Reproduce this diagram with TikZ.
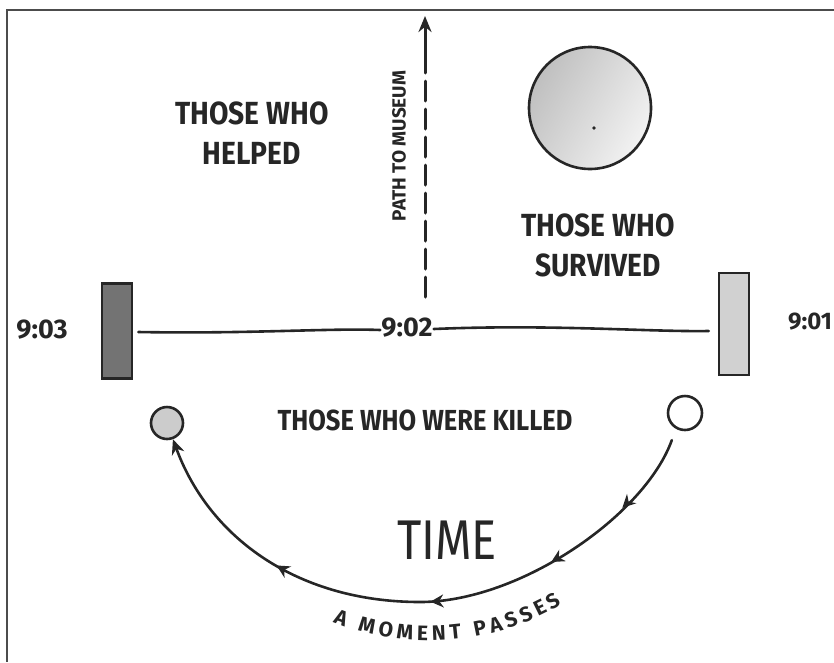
\documentclass[tikz,border=0pt]{standalone}
\usepackage{fontspec}
\setmainfont{Fira Sans}
\usetikzlibrary{arrows.meta,decorations.markings,decorations.text}
\begin{document}
\begin{tikzpicture}[x=1pt,y=-1pt,
  ink/.style={draw=black!85, line width=2.6pt, line cap=round},
  hand/.style={font=\bfseries\fontsize{32}{40}\selectfont, text=black!85, align=center, inner sep=0pt, xscale=0.88},
  smallhand/.style={font=\bfseries\fontsize{27}{27}\selectfont, text=black!85, inner sep=1pt},
  bar/.style={draw=black!85, line width=2.6pt, minimum width=30pt, minimum height=95pt, inner sep=0pt},
  dotc/.style={circle, draw=black!85, line width=2.6pt, inner sep=0pt, minimum size=32pt},
  midtip/.style={decoration={markings,
      mark=at position 0.15 with {\arrow{Stealth[length=13pt,width=13pt]}},
      mark=at position 0.29 with {\arrow{Stealth[length=13pt,width=13pt]}},
      mark=at position 0.49 with {\arrow{Stealth[length=13pt,width=13pt]}},
      mark=at position 0.74 with {\arrow{Stealth[length=13pt,width=13pt]}}},
    postaction={decorate}}
]
\useasboundingbox (0,0) rectangle (834,662);
% frame
\draw[draw=black!70, line width=2pt] (834,10) -- (7,10) -- (7,662);

% path to museum
\coordinate (pbot) at (425,297);
\coordinate (pmid) at (425,64);
\coordinate (ptop) at (425,16);
\draw[ink, line width=3pt, dash pattern=on 20pt off 8pt] (pbot) -- (pmid);
\draw[ink, line width=3pt, -{Stealth[length=16pt,width=13pt]}] (pmid) -- (ptop);
\node[font=\bfseries\fontsize{19}{19}\selectfont, text=black!85, rotate=90, inner sep=0pt] (pathlbl) at (399,146) {PATH TO MUSEUM};

% labels
\node[hand] (helped) at (252,133) {THOSE WHO\\HELPED};
\node[hand] (survived) at (598,245) {THOSE WHO\\SURVIVED};
\node[hand, font=\bfseries\fontsize{29}{29}\selectfont] (killed) at (425,420) {THOSE WHO WERE KILLED};
\node[font=\fontsize{56}{56}\selectfont, text=black!85, inner sep=0pt, xscale=0.84] (time) at (447,540) {TIME};

% big circle
\node[circle, draw=black!85, line width=2.6pt, minimum size=122pt, left color=black!25, right color=black!5, shading angle=60] (sun) at (590,108) {};
\fill[black!85] (594,128) circle (1.8pt);

% bars and timeline
\node[bar, fill=black!55] (L) at (117,331) {};
\node[bar, fill=black!18, minimum height=102pt] (R) at (734,324) {};
\node[smallhand] (t903) at (42,330) {9:03};
\node[smallhand] (t902) at (407,328) {9:02};
\node[smallhand, font=\bfseries\fontsize{24}{24}\selectfont] (t901) at (810,322) {9:01};
\draw[ink] ([xshift=5pt]L.east |- 0,332) .. controls (250,334) and (330,328) .. (t902.west |- 0,330);
\draw[ink] (t902.east |- 0,329) .. controls (550,324) and (650,332) .. ([xshift=-9pt]R.west |- 0,331);

% small circles
\node[dotc, fill=black!20] (lc) at (167,423) {};
\node[dotc, minimum size=34pt] (rc) at (685,413) {};
\coordinate (bot) at (420,602);
\draw[ink, midtip, shorten <=12pt, -{Stealth[length=15pt,width=13pt]}]
  (rc.240) .. controls (645,515) and (520,602) .. (bot)
  .. controls (300,602) and (210,540) .. (lc.-70);

% a moment passes
\path[decorate, decoration={text along path, text align=fit to path,
  text={|\bfseries\fontsize{21}{21}\selectfont\color{black!85}|A MOMENT PASSES}}]
  (333,622) .. controls (400,650) and (490,648) .. (562,604);
\end{tikzpicture}
\end{document}
